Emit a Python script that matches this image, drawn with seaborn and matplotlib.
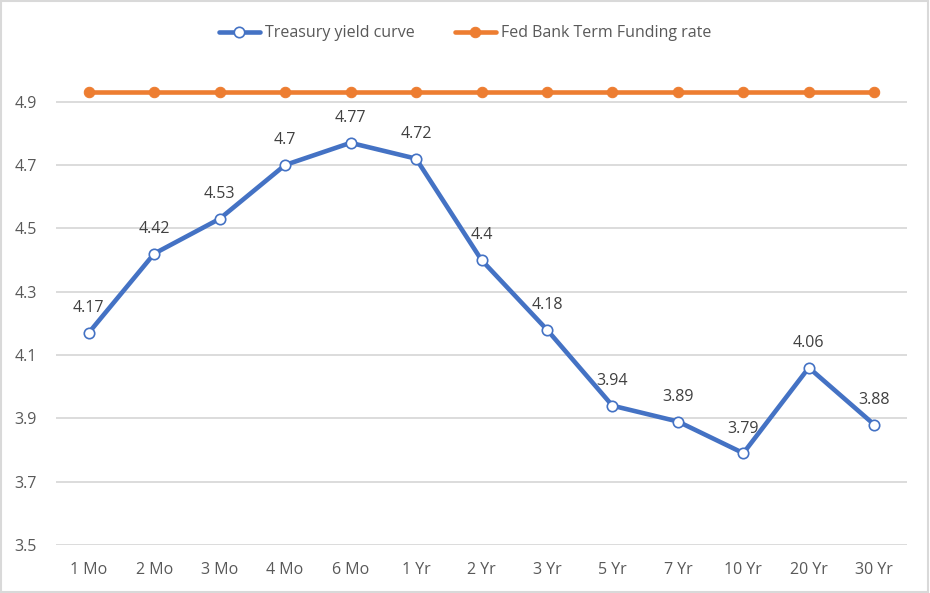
import matplotlib
matplotlib.use("Agg")
import matplotlib.pyplot as plt
import seaborn as sns
import pandas as pd
from matplotlib.patches import Rectangle

categories = ["1 Mo", "2 Mo", "3 Mo", "4 Mo", "6 Mo", "1 Yr", "2 Yr", "3 Yr",
              "5 Yr", "7 Yr", "10 Yr", "20 Yr", "30 Yr"]
treasury = [4.17, 4.42, 4.53, 4.70, 4.77, 4.72, 4.40, 4.18, 3.94, 3.89, 3.79, 4.06, 3.88]
treasury_labels = ["4.17", "4.42", "4.53", "4.7", "4.77", "4.72", "4.4", "4.18",
                   "3.94", "3.89", "3.79", "4.06", "3.88"]
fed_rate = [4.93] * len(categories)
y_ticks = [3.5, 3.7, 3.9, 4.1, 4.3, 4.5, 4.7, 4.9]

sns.set_theme(style="white")
plt.rcParams['font.family'] = ['Open Sans', 'DejaVu Sans']

BLUE = "#4472C4"
ORANGE = "#ED7D31"
TXT = "#595959"
GRID = "#D9D9D9"

df = pd.DataFrame({"cat": categories, "treasury": treasury, "fed": fed_rate})

fig = plt.figure(figsize=(9.3, 5.93), dpi=100)
ax = fig.add_axes([56/930, 48/593, (907-56)/930, (545-70)/593])

sns.lineplot(data=df, x="cat", y="treasury", ax=ax, color=BLUE, linewidth=3.3,
             marker="o", markersize=7.5, markerfacecolor="white",
             markeredgecolor=BLUE, markeredgewidth=1.2, sort=False,
             label="Treasury yield curve", zorder=4)
sns.lineplot(data=df, x="cat", y="fed", ax=ax, color=ORANGE, linewidth=3.3,
             marker="o", markersize=7.5, markerfacecolor=ORANGE,
             markeredgecolor=ORANGE, sort=False,
             label="Fed Bank Term Funding rate", zorder=3)

for i, (v, lab) in enumerate(zip(treasury, treasury_labels)):
    ax.annotate(lab, (i, v), xytext=(0, 12), textcoords="offset points",
                ha="center", va="bottom", fontsize=11.5, color="#404040")

ax.set_xlim(-0.5, len(categories) - 0.5)
ax.set_ylim(3.5, 5.0)
ax.set_yticks(y_ticks)
ax.set_yticklabels([f"{t:.1f}" for t in y_ticks])
ax.set_xlabel("")
ax.set_ylabel("")
ax.grid(axis="y", color=GRID, linewidth=1.3)
ax.set_axisbelow(True)
for s in ax.spines.values():
    s.set_visible(False)
ax.tick_params(axis="both", length=0, labelsize=11.5, colors=TXT)
ax.tick_params(axis="x", pad=12)
ax.tick_params(axis="y", pad=14)

leg = ax.legend(loc="upper center", bbox_to_anchor=(0.5, (593-11)/593),
                bbox_transform=fig.transFigure, ncol=2, frameon=False,
                fontsize=11.5, handlelength=2.6, columnspacing=2.5, handletextpad=0.3)
for t in leg.get_texts():
    t.set_color(TXT)

fig.patches.append(Rectangle((0.001, 0.001), 0.997, 0.997, transform=fig.transFigure,
                             fill=False, edgecolor=GRID, linewidth=1.5))

fig.savefig("out.png", dpi=100)
